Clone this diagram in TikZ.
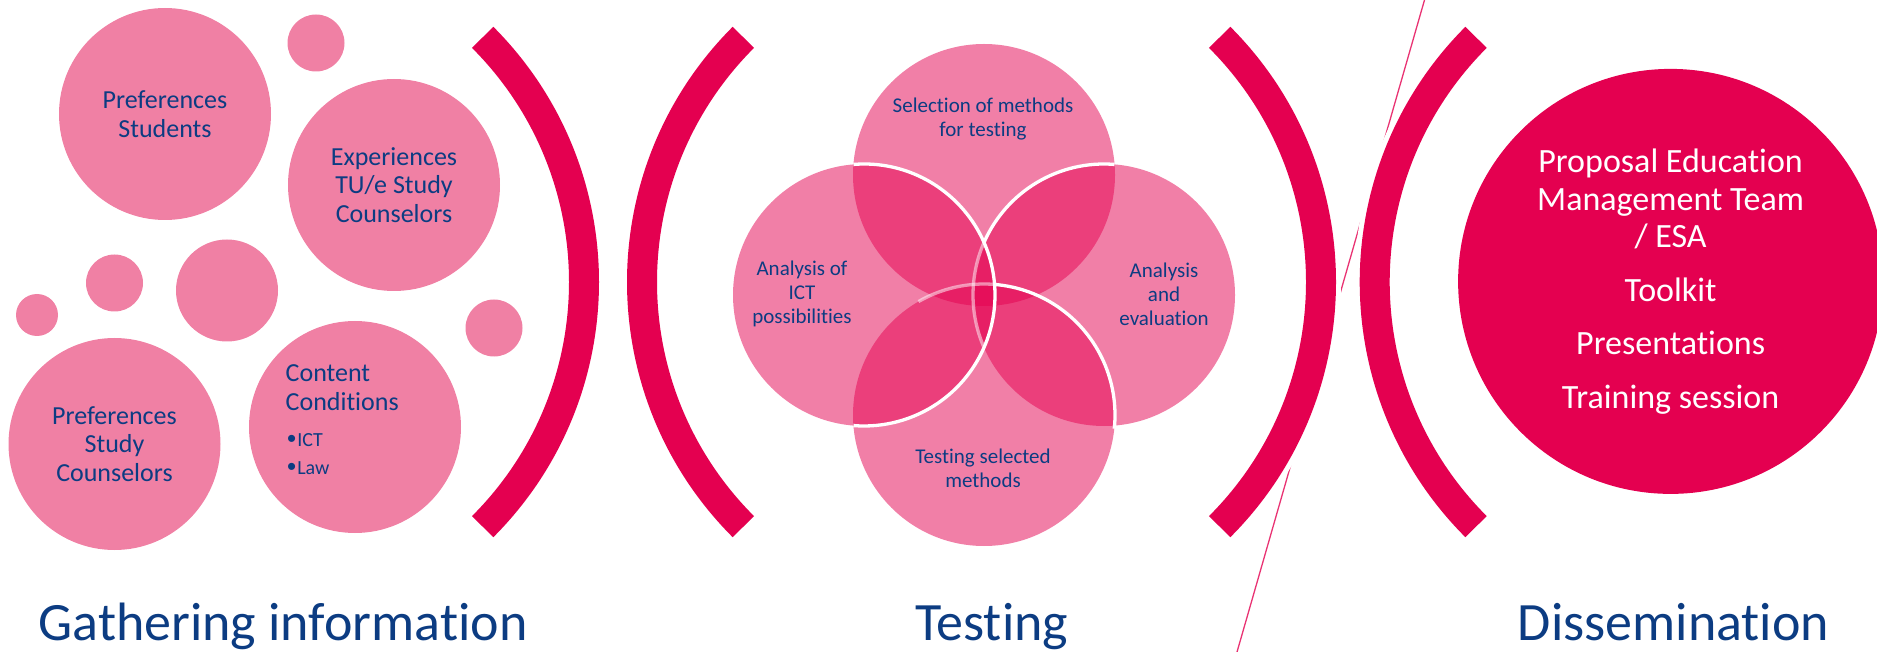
\documentclass[tikz,border=0pt]{standalone}
\usepackage{fontspec}
\setmainfont{Carlito}[Ligatures=NoCommon]
\newfontfamily\bulletfont{Liberation Sans}
\definecolor{brk}{RGB}{228,0,80}
\definecolor{lpink}{RGB}{240,128,164}
\definecolor{txtblue}{RGB}{12,60,130}
\newcommand{\mybul}{\raisebox{-1pt}{\bulletfont\fontsize{26}{28}\selectfont\textbullet}\hspace{1pt}}
\begin{document}
\begin{tikzpicture}[x=1pt,y=-1pt,
  bubble/.style={circle,fill=lpink,draw=none,inner sep=0pt,outer sep=0pt,minimum size=#1},
  bubtxt/.style={text=txtblue,font=\fontsize{26}{28.6}\selectfont,align=center},
  smalltxt/.style={text=txtblue,font=\fontsize{20}{24}\selectfont,inner sep=0pt,anchor=base west},
  venntxt/.style={text=txtblue,font=\fontsize{21}{24}\selectfont,align=center},
  distxt/.style={text=white,font=\fontsize{34}{37.5}\selectfont,align=center},
  labeltxt/.style={text=txtblue,font=\fontsize{54}{60}\selectfont,anchor=base},
  vennfill/.style={fill=brk,fill opacity=0.5},
  vline/.style={draw=white,line width=3.3pt},
  vlight/.style={draw=white,draw opacity=0.5,line width=3.3pt},
  halo/.style={draw=white,line width=40pt},
  bracketline/.style={draw=brk,line width=30pt},
  thinline/.style={draw=brk!80!white,line width=1.3pt}
]
\useasboundingbox (0,0) rectangle (1877,652);
\clip (0,0) rectangle (1877,652);

% thin diagonal line
\coordinate (lt) at (1424.5,0);
\coordinate (lb) at (1237,652);
\draw[thinline] (lt) -- (lb);

% brackets
\coordinate (b1) at (238,282);
\coordinate (b2) at (988,282);
\coordinate (b3) at (975,282);
\coordinate (b4) at (1720.7,282);
\foreach \c/\a in {b1/-45,b3/-45,b2/135,b4/135}{
  \draw[halo] (\c) ++(\a:346) arc[start angle=\a,delta angle=90,radius=346];
  \draw[bracketline] (\c) ++(\a:346) arc[start angle=\a,delta angle=90,radius=346];
}

% gathering information bubbles
\node[bubble=212pt,bubtxt] (ps) at (165,114) {Preferences\\Students};
\node[bubble=57pt] (sm1) at (316,43) {};
\node[bubble=212pt,bubtxt] (exp) at (394,185) {Experiences\\TU/e Study\\Counselors};
\node[bubble=42pt] (sm2) at (37,315) {};
\node[bubble=57pt] (sm3) at (114.5,283) {};
\node[bubble=102pt] (md) at (227,290.5) {};
\node[bubble=57pt] (sm4) at (494,328) {};
\node[bubble=212pt,bubtxt] (psc) at (114.5,444) {Preferences\\Study\\Counselors};
\node[bubble=212pt] (cc) at (355,427) {};
\node[bubtxt,anchor=base west,inner sep=0pt] (cc1) at (285.5,381.8) {Content};
\node[bubtxt,anchor=base west,inner sep=0pt] (cc2) at (285.5,410.4) {Conditions};
\node[smalltxt] (cc3) at (287,446.4) {\mybul ICT};
\node[smalltxt] (cc4) at (287,474.5) {\mybul Law};

% Venn
\coordinate (vt) at (984,175);
\coordinate (vl) at (864,295);
\coordinate (vr) at (1104,295);
\coordinate (vb) at (984,415);
\foreach \c in {vt,vr,vb,vl}{\fill[vennfill] (\c) circle[radius=131];}
\draw[vlight] (vr) ++(-156.4:131) arc[start angle=-156.4,end angle=-203.6,radius=131];
\draw[vlight] (vb) ++(-85.4:131) arc[start angle=-85.4,end angle=-120,radius=131];
\draw[vline] (vr) ++(-85.4:131) arc[start angle=-85.4,end angle=-156.4,radius=131];
\draw[vline] (vb) ++(6:131) arc[start angle=6,end angle=-85.4,radius=131];
\draw[vline] (vl) ++(-94.6:131) arc[start angle=-94.6,end angle=94.6,radius=131];
\node[venntxt] (t1) at (983,119) {Selection of methods\\for testing};
\node[venntxt] (t2) at (802,294) {Analysis of\\ICT\\possibilities};
\node[venntxt] (t3) at (1164,294) {Analysis\\and\\evaluation};
\node[venntxt] (t4) at (983,468) {Testing selected\\methods};

% dissemination
\node[circle,fill=brk,minimum size=425pt,inner sep=0pt,distxt] (dis) at (1670.6,281.4)
  {Proposal Education\\Management Team\\/ ESA\\[16pt]Toolkit\\[16pt]Presentations\\[16pt]Training session};

% bottom labels
\node[labeltxt] (lg) at (283,640) {Gathering information};
\node[labeltxt] (lt2) at (991.6,640) {Testing};
\node[labeltxt] (ld) at (1673.6,640) {Dissemination};
\end{tikzpicture}
\end{document}
